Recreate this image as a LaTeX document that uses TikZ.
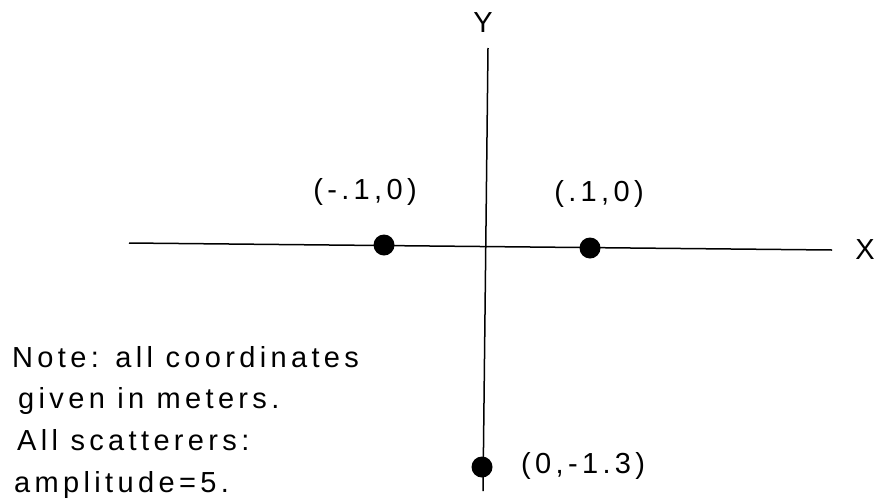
\documentclass[tikz,border=0pt]{standalone}
\usepackage{fontspec}
\setmainfont{Liberation Sans}[LetterSpace=15]
\begin{document}
\begin{tikzpicture}[x=1pt,y=-1pt,
  axis/.style={line width=1.5pt,black},
  dotnode/.style={circle,fill=black,inner sep=0pt,minimum size=21pt},
  lbl/.style={font=\fontsize{29}{34}\selectfont,inner sep=0pt}]
\useasboundingbox (0,0) rectangle (882,501);
% axes
\coordinate (xl) at (129,243);
\coordinate (xr) at (832,250);
\coordinate (yt) at (488,48);
\coordinate (yb) at (483,491);
\draw[axis] (xl) -- (xr);
\draw[axis] (yt) -- (yb);
% axis labels
\node[lbl] (X) at (865,250) {X};
\node[lbl] (Y) at (483,23) {Y};
% scatterers
\node[dotnode] (p1) at (384,245) {};
\node[dotnode] (p2) at (590,248) {};
\node[dotnode] (p3) at (482,467) {};
\node[lbl] (l1) at (365,192) {(-.1,0)};
\node[lbl] (l2) at (599,194) {(.1,0)};
\node[lbl,anchor=west] (l3) at (521,466) {(0,-1.3)};
% note
\node[lbl,anchor=base west] (n1) at (12,367) {Note: all coordinates};
\node[lbl,anchor=base west] (n2) at (18,408) {given in meters.};
\node[lbl,anchor=base west] (n3) at (17,450) {All scatterers:};
\node[lbl,anchor=base west] (n4) at (14,492) {amplitude=5.};
\end{tikzpicture}
\end{document}
